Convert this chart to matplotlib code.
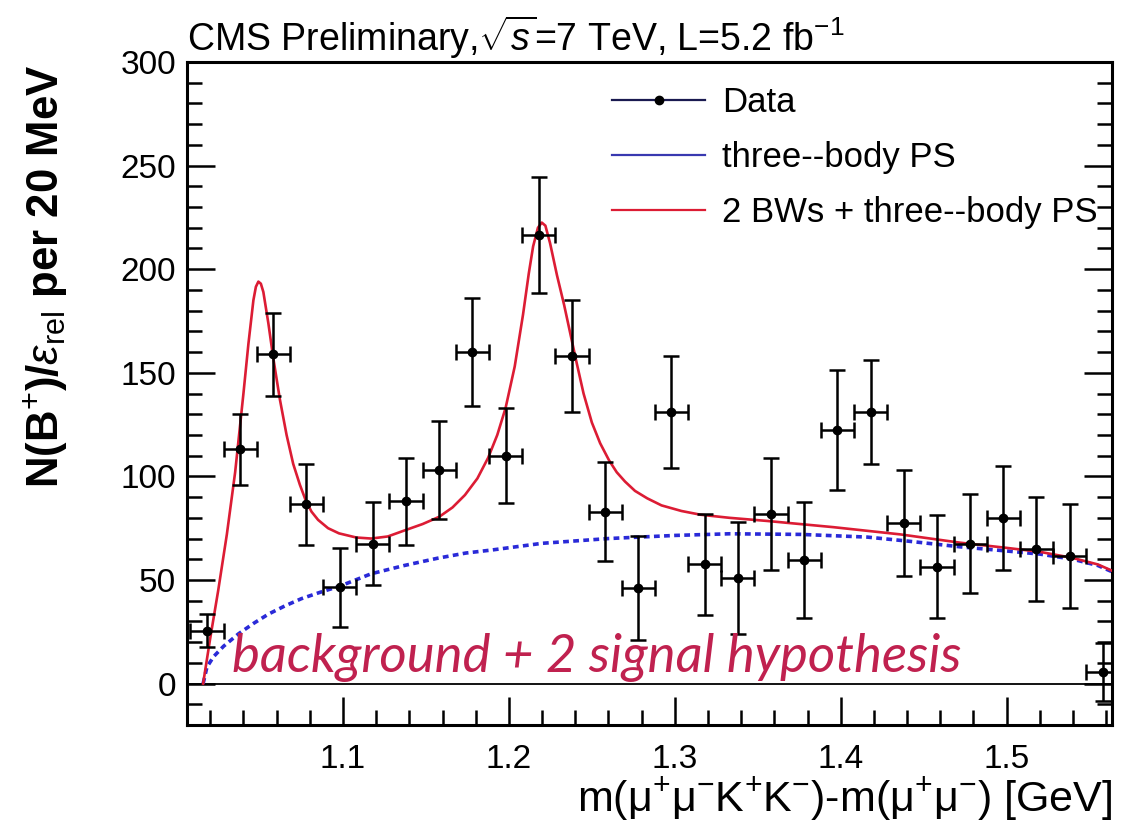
import matplotlib
matplotlib.use("Agg")
import matplotlib.pyplot as plt
from matplotlib.lines import Line2D
from matplotlib.ticker import MultipleLocator

plt.rcParams['font.family'] = ['Liberation Sans', 'DejaVu Sans']
plt.rcParams['mathtext.fontset'] = 'custom'
plt.rcParams['mathtext.rm'] = 'Liberation Sans'
plt.rcParams['mathtext.it'] = 'Liberation Sans:italic'
plt.rcParams['mathtext.bf'] = 'Liberation Sans:bold'

# data points (bin centres, 20 MeV bins)
mass = [1.018, 1.038, 1.058, 1.078, 1.098, 1.118, 1.138, 1.158, 1.178, 1.198,
        1.218, 1.238, 1.258, 1.278, 1.298, 1.318, 1.338, 1.358, 1.378, 1.398,
        1.418, 1.438, 1.458, 1.478, 1.498, 1.518, 1.538, 1.558]
counts = [25.5, 113, 159, 86.5, 46.5, 67.5, 88, 103, 160, 110,
          216.5, 158, 83, 46, 131, 57.5, 51, 82, 59.5, 122.5,
          131, 77.5, 56.5, 67.5, 80, 65, 61.5, 5.5]
errs = [8, 17, 20, 19.5, 19, 20, 21, 23.5, 26, 23,
        28, 27, 24, 25, 27, 24.5, 27, 27, 28, 29,
        25, 25.5, 25, 24, 25, 25, 25, 14]
half_bin = [0.01] * len(mass)

# three-body phase space curve
ps_x = [1.0157, 1.018, 1.022, 1.028, 1.037, 1.046, 1.055, 1.065, 1.075, 1.086,
        1.098, 1.117, 1.137, 1.157, 1.174, 1.19, 1.22, 1.26, 1.30, 1.333,
        1.376, 1.416, 1.44, 1.472, 1.50, 1.52, 1.54, 1.555, 1.5635]
ps_y = [0, 8, 13, 18, 24, 29, 33.5, 37.5, 41, 44,
        47, 53, 57, 60.5, 63, 64.5, 67.7, 70, 71.5, 72.3,
        72, 70.7, 68.8, 66, 64, 62.5, 60, 57, 54]

# 2 BWs + phase space curve
fit_x = [1.0157, 1.020, 1.0248, 1.030, 1.035, 1.040, 1.043, 1.046, 1.0475, 1.049,
         1.0505, 1.052, 1.055, 1.058, 1.062, 1.066, 1.070, 1.074, 1.0775, 1.081,
         1.085, 1.091, 1.0976, 1.108, 1.117, 1.127, 1.1374, 1.148, 1.158, 1.166,
         1.1735, 1.181, 1.1875, 1.193, 1.198, 1.2035, 1.2085, 1.212, 1.2146, 1.2175,
         1.2198, 1.222, 1.2248, 1.229, 1.2333, 1.2405, 1.245, 1.25, 1.255, 1.2604,
         1.265, 1.27, 1.276, 1.2834, 1.292, 1.304, 1.3155, 1.333, 1.3555, 1.3955,
         1.436, 1.472, 1.5, 1.52, 1.54, 1.555, 1.5635]
fit_y = [0, 22, 45, 72, 102, 140, 164, 185, 191.5, 194,
         193, 189, 174, 157, 137, 120, 106, 96, 88.5, 83,
         79, 75, 72.5, 70.5, 70, 71, 74, 77, 80.5, 85,
         91, 99, 109, 120, 133, 153, 178, 198, 211, 220,
         222.5, 221, 212.6, 197, 182.7, 156, 140, 126, 116, 107.7,
         102, 97.5, 93, 89.4, 86, 83.3, 81.5, 80, 78.5, 75.5,
         72, 68, 65.5, 63.6, 60.6, 57.5, 54.5]

red = '#dc1c34'
blue = '#2a2ad8'

fig = plt.figure(figsize=(11.24, 8.21), dpi=100)
ax = fig.add_axes([0.1664, 0.1169, 0.8229, 0.8076])

ax.axhline(0, color='black', lw=1.3, zorder=1)
ax.plot(ps_x, ps_y, color=blue, lw=2.6, ls=(0, (1.6, 1.2)), zorder=2)
ax.plot(fit_x, fit_y, color=red, lw=1.9, zorder=3)
ax.errorbar(mass, counts, yerr=errs, xerr=half_bin, fmt='o', color='black',
            ms=6, elinewidth=1.8, capsize=5.5, capthick=1.8, zorder=4)

ax.text(1.033, 5.5, 'background + 2 signal hypothesis', family='Lato',
        style='italic', fontsize=38, color='#c0214f', zorder=5)

ax.set_xlim(1.006, 1.5635)
ax.set_ylim(-20, 300)
ax.xaxis.set_major_locator(MultipleLocator(0.1))
ax.xaxis.set_minor_locator(MultipleLocator(0.02))
ax.yaxis.set_major_locator(MultipleLocator(50))
ax.yaxis.set_minor_locator(MultipleLocator(10))
ax.tick_params(which='both', direction='in', left=True, right=True, top=False,
               width=1.8, labelsize=24)
ax.tick_params(which='major', length=20)
ax.tick_params(which='minor', length=10.5)
ax.tick_params(axis='x', which='major', pad=14)
ax.tick_params(axis='y', which='major', pad=8)
for s in ax.spines.values():
    s.set_linewidth(2.2)

fig.text(0.1664, 0.938, 'CMS Preliminary,$\\sqrt{s}$=7 TeV, L=5.2 fb$^{-1}$',
         fontsize=27, ha='left', va='baseline')
fig.text(0.9893, 0.012, 'm(μ$^{+}$μ$^{-}$K$^{+}$K$^{-}$)-m(μ$^{+}$μ$^{-}$) [GeV]',
         fontsize=31, ha='right', va='baseline')
fig.text(0.04, 0.921, 'N(B$^{+}$)/$\\varepsilon_{\\mathrm{rel}}$ per 20 MeV',
         fontsize=31.5, fontweight='bold', rotation=90, ha='center', va='top')

handles = [Line2D([], [], color='#1a1a50', lw=1.6, marker='o', ms=6,
                  mfc='black', mec='black'),
           Line2D([], [], color='#3838b0', lw=1.6),
           Line2D([], [], color=red, lw=1.6)]
labels = ['Data', 'three--body PS', '2 BWs + three--body PS']
ax.legend(handles, labels, loc='upper left', frameon=False, fontsize=25,
          bbox_to_anchor=(612 / 1124, 1 - 86 / 821), bbox_transform=fig.transFigure,
          borderpad=0, borderaxespad=0, handlelength=2.68, handletextpad=0.49,
          labelspacing=0.64)

fig.savefig('out.png', dpi=100)
